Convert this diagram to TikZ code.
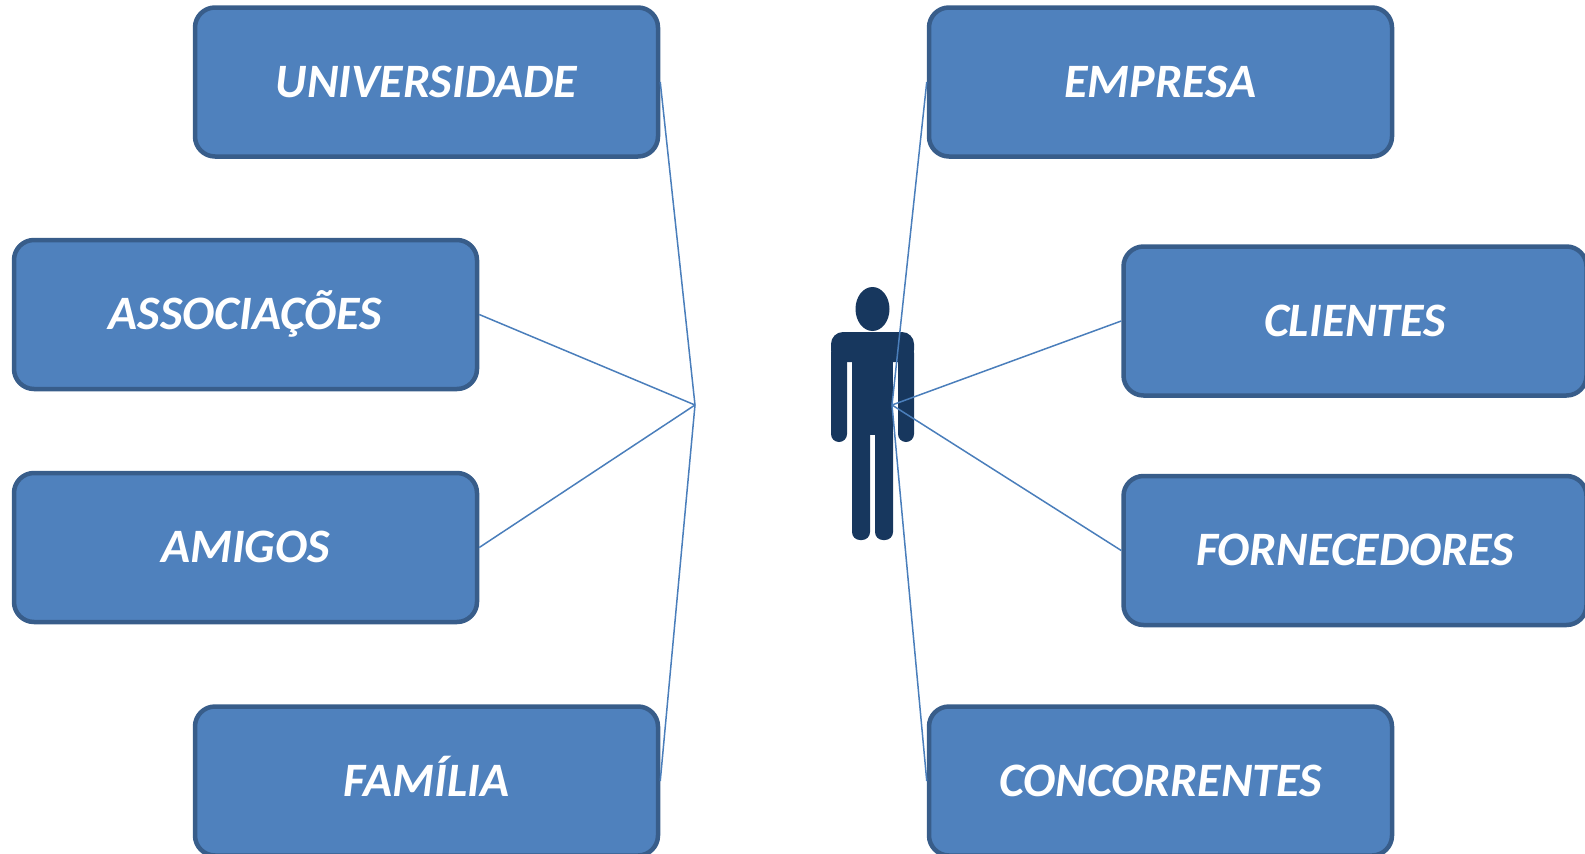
\documentclass[tikz,border=0pt]{standalone}
\usepackage{fontspec}
\setmainfont{Carlito}
\definecolor{boxfill}{HTML}{4F81BD}
\definecolor{boxedge}{HTML}{385D8A}
\definecolor{linkc}{HTML}{4A7EBB}
\definecolor{person}{HTML}{17375E}
\tikzset{
  rbox/.style={draw=boxedge, line width=4.5pt, fill=boxfill, rounded corners=20pt,
    minimum width=463pt, minimum height=149pt, inner sep=0pt,
    text height=30pt, text depth=0pt,
    text=white, font=\fontsize{48}{54}\selectfont\bfseries\itshape},
  link/.style={draw=linkc, line width=1.5pt},
  body/.style={fill=person}
}
\begin{document}
\begin{tikzpicture}[x=1pt,y=-1pt]
\useasboundingbox (0,0) rectangle (1585,854);
\clip (0,0) rectangle (1585,854);
% person
\fill[body] (872.5,309) ellipse [x radius=17, y radius=22];
\fill[body, rounded corners=12pt] (831,332) rectangle (914,362);
\fill[body, rounded corners=8pt] (831,345) rectangle (847,442);
\fill[body, rounded corners=8pt] (898,345) rectangle (914,442);
\fill[body] (852,340) rectangle (893,435);
\fill[body, rounded corners=8pt] (852,425) rectangle (870,540);
\fill[body, rounded corners=8pt] (875,425) rectangle (893,540);
% hubs
\coordinate (hubL) at (695,405);
\coordinate (hubR) at (892,405);
% boxes
\node[rbox] (univ) at (426.5,82) {UNIVERSIDADE};
\node[rbox] (assoc) at (245.5,314.5) {ASSOCIAÇÕES};
\node[rbox] (amigos) at (245.5,547.5) {AMIGOS};
\node[rbox] (familia) at (426.5,781) {FAMÍLIA};
\node[rbox] (empresa) at (1160.5,82) {EMPRESA};
\node[rbox] (clientes) at (1355,321) {CLIENTES};
\node[rbox] (fornec) at (1355,550.5) {FORNECEDORES};
\node[rbox] (concorr) at (1160.5,781) {CONCORRENTES};
% links
\draw[link] (univ.east) -- (hubL);
\draw[link] (assoc.east) -- (hubL);
\draw[link] (amigos.east) -- (hubL);
\draw[link] (familia.east) -- (hubL);
\draw[link] (empresa.west) -- (hubR);
\draw[link] (clientes.west) -- (hubR);
\draw[link] (fornec.west) -- (hubR);
\draw[link] (concorr.west) -- (hubR);
\end{tikzpicture}
\end{document}
